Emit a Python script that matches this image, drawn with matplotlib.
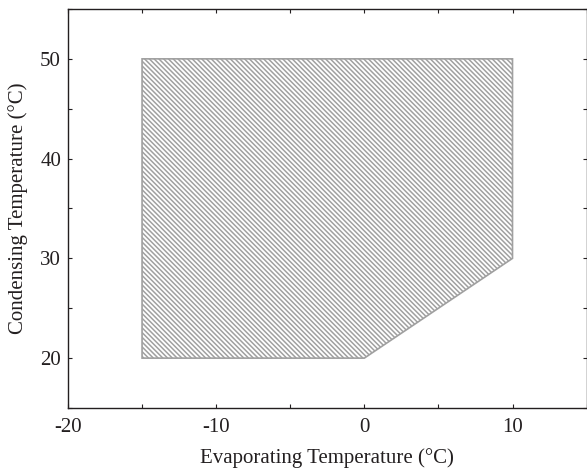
import matplotlib
matplotlib.use("Agg")
import matplotlib.pyplot as plt
from matplotlib.patches import Polygon
from matplotlib.ticker import MultipleLocator, FuncFormatter

evap = [-15, 0, 10, 10, -15]
cond = [20, 20, 30, 50, 50]

plt.rcParams['font.family'] = ['Liberation Serif', 'DejaVu Serif']
plt.rcParams['hatch.color'] = '#9a9a9a'
plt.rcParams['hatch.linewidth'] = 1.1
plt.rcParams['axes.unicode_minus'] = False

fig = plt.figure(figsize=(5.87, 4.70), dpi=100)
ax = fig.add_axes([0.1158, 0.1319, 0.8835, 0.8490])

poly = Polygon(list(zip(evap, cond)), closed=True, facecolor='white',
               edgecolor='#a0a0a0', hatch='\\' * 7, linewidth=1.2)
ax.add_patch(poly)

ax.set_xlim(-20, 15)
ax.set_ylim(15, 55)
ax.xaxis.set_major_locator(MultipleLocator(10))
ax.xaxis.set_minor_locator(MultipleLocator(5))
ax.yaxis.set_major_locator(MultipleLocator(10))
ax.yaxis.set_minor_locator(MultipleLocator(5))
fmt = FuncFormatter(lambda v, p: f"{v:.0f}")
ax.xaxis.set_major_formatter(fmt)
ax.yaxis.set_major_formatter(fmt)
ax.tick_params(which='both', direction='in', top=True, right=True,
               length=3, width=0.8, labelsize=15, colors='#231f20')
ax.tick_params(axis='x', pad=7)
ax.tick_params(axis='y', pad=5)
for s in ax.spines.values():
    s.set_linewidth(1.0)
    s.set_color('#231f20')

ax.set_xlabel('Evaporating Temperature (°C)', fontsize=15, color='#231f20', labelpad=8)
ax.set_ylabel('Condensing Temperature (°C)', fontsize=15, color='#231f20', labelpad=9)

fig.savefig('out.png', dpi=100)
